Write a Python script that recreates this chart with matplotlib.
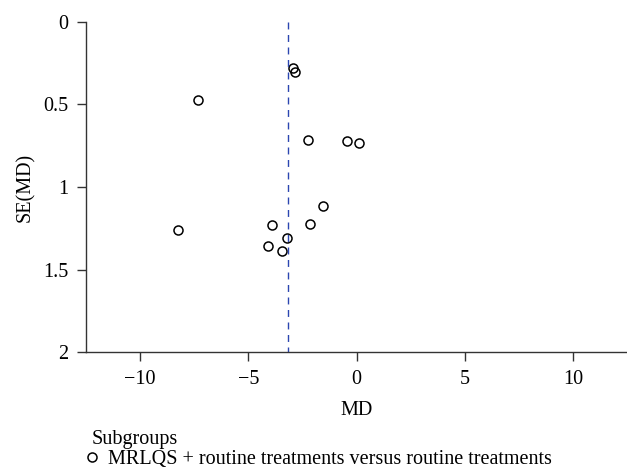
import matplotlib
matplotlib.use("Agg")
import matplotlib.pyplot as plt

# study estimates
md = [-2.92, -2.86, -7.31, -2.22, -0.45, 0.09, -1.54, -2.17, -3.89, -8.22, -3.22, -4.08, -3.45]
se_md = [0.278, 0.306, 0.474, 0.718, 0.724, 0.735, 1.117, 1.224, 1.230, 1.258, 1.306, 1.355, 1.389]
pooled_md = -3.16

x_ticks = [-10, -5, 0, 5, 10]
y_ticks = [0, 0.5, 1, 1.5, 2]
y_tick_labels = ["0", "0.5", "1", "1.5", "2"]
subgroup_label = "MRLQS + routine treatments versus routine treatments"

plt.rcParams["font.family"] = ["Liberation Serif", "DejaVu Serif"]
plt.rcParams["font.size"] = 14.5

fig = plt.figure(figsize=(6.27, 4.68), dpi=100)
ax = fig.add_axes([0.1367, 0.2468, 0.8641, 0.7068])

pts, = ax.plot(md, se_md, linestyle="none", marker="o", markersize=6.5,
               markerfacecolor="none", markeredgecolor="black", markeredgewidth=1.1,
               label=subgroup_label, clip_on=False)
ax.plot([pooled_md, pooled_md], [0, 2], color="#2b46b0", linewidth=1.0,
        linestyle=(0, (5, 4)))

ax.set_xlim(-12.5, 12.5)
ax.set_ylim(2, 0)
ax.set_xticks(x_ticks)
ax.set_xticklabels([str(t).replace("-", "\u2212") for t in x_ticks])
ax.set_yticks(y_ticks)
ax.set_yticklabels(y_tick_labels)
ax.tick_params(direction="out", length=6.5, width=1, color="#333333", pad=6)

for side in ["top", "right"]:
    ax.spines[side].set_visible(False)
for side in ["left", "bottom"]:
    ax.spines[side].set_linewidth(1.0)
    ax.spines[side].set_color("#333333")

ax.set_xlabel("MD", labelpad=9)
ax.set_ylabel("SE(MD)", labelpad=6)

leg = fig.legend(handles=[pts], title="Subgroups", loc="upper left",
                 bbox_to_anchor=(0.124, 0.112), frameon=False, alignment="left",
                 handlelength=0.0, handletextpad=0.8, borderpad=0.2,
                 labelspacing=0.2, fontsize=14.5, title_fontsize=14.5)
leg._legend_box.sep = 1

fig.savefig("out.png", dpi=100)
